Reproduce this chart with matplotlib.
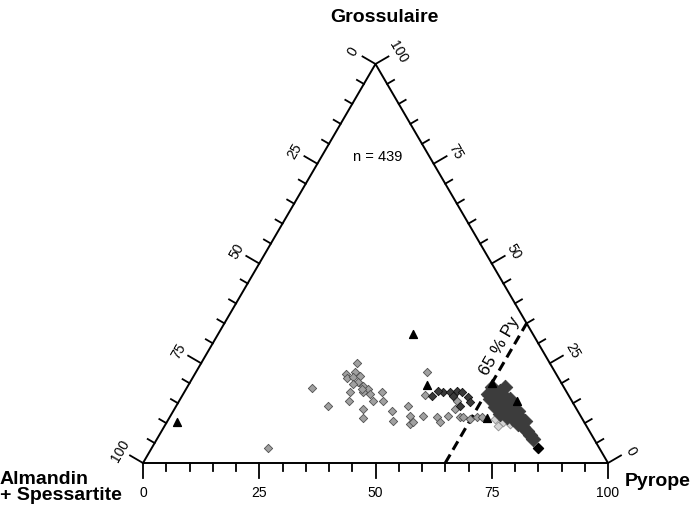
import matplotlib
matplotlib.use('Agg')
import matplotlib.pyplot as plt
import numpy as np

plt.rcParams['font.family'] = ['Liberation Sans', 'DejaVu Sans']

# garnet analyses, mol % pyrope (Py) and grossular (Gro); Alm+Sps is the rest
gray_py = [25.0, 26.9, 32.6, 33.5, 34.2, 32.5, 33.2, 34.4, 35.8, 36.1, 37.7, 39.1,
           38.4, 40.2, 37.8, 35.3, 35.6, 36.5, 40.6, 41.7, 41.7, 42.5, 43.9, 47.0,
           48.5, 49.9, 51.5, 52.5, 49.7, 52.1, 52.9, 54.3, 57.5, 58.7, 59.7, 60.4,
           59.8, 62.4, 64.8, 66.1, 63.1, 67.2]
gray_gro = [3.8, 18.8, 14.3, 25.1, 22.8, 22.3, 21.3, 21.6, 21.8, 20.3, 19.3, 18.5,
            17.8, 17.3, 18.5, 19.8, 17.8, 15.5, 13.5, 11.3, 15.5, 17.8, 15.5, 13.0,
            10.5, 14.3, 11.8, 9.8, 22.8, 17.0, 10.3, 11.8, 11.5, 10.3, 11.8, 13.5,
            15.5, 11.5, 11.0, 11.5, 11.5, 11.5]

light_py = [70.2, 72.3, 74.0, 71.7]
light_gro = [11.0, 10.3, 9.8, 9.3]

band_py = [55.6, 57.1, 58.5, 59.7, 58.3, 61.6, 62.7, 53.8, 61.0, 54.4]
band_gro = [17.8, 17.8, 18.0, 17.8, 16.8, 16.5, 15.3, 16.8, 14.3, 18.0]

blob_py = [67.0, 67.8, 69.6, 68.6, 71.1, 72.6, 70.7, 68.7, 73.9, 75.3, 75.7, 77.2,
           78.6, 79.7, 70.9, 66.6, 70.6, 72.5, 74.1, 76.9, 80.9, 65.6, 65.5, 74.1, 68.3]
blob_gro = [17.3, 18.0, 16.5, 15.5, 14.8, 13.5, 13.5, 14.0, 12.3, 11.5, 9.8, 9.0,
            8.0, 7.0, 16.0, 16.0, 12.3, 11.5, 11.0, 10.5, 6.0, 19.0, 17.3, 13.0, 19.0]

tri_py = [2.2, 41.9, 51.3, 65.0, 68.4, 72.7]
tri_gro = [10.3, 32.3, 19.5, 20.1, 11.3, 15.5]

dia_py = [83.0]
dia_gro = [3.8]

n_total = 439
py_limit = 65
tick_vals = [0, 25, 50, 75, 100]

W, H = 692, 506
X0, X1, YB, YT = 143, 608, 464, 65   # triangle frame in figure pixels
sx, sy = X1 - X0, YB - YT


def tern(py, gro):
    py = np.asarray(py, dtype=float) / 100.0
    gro = np.asarray(gro, dtype=float) / 100.0
    return py + gro / 2, gro


fig = plt.figure(figsize=(W / 100, H / 100), dpi=100)
ax = fig.add_axes([X0 / W, 1 - YB / H, sx / W, sy / H])
ax.set_xlim(0, 1)
ax.set_ylim(0, 1)
ax.axis('off')

# frame
ax.plot([0, 1, 0.5, 0], [0, 0, 1, 0], color='black', lw=1.4, clip_on=False,
        solid_joinstyle='miter')

# outward normals in pixel space (y up)
ang = np.degrees(np.arctan2(sy, sx / 2))
nl = np.array([-sy, sx / 2]) / np.hypot(sy, sx / 2)
nr = np.array([sy, sx / 2]) / np.hypot(sy, sx / 2)
nb = np.array([0.0, -1.0])

for v in range(0, 101, 5):
    L = 15 if v % 25 == 0 else 8
    for (x, y), n in [(tern(0, 100 - v), nl), (tern(100 - v, v), nr), (tern(v, 0), nb)]:
        ax.plot([x, x + L * n[0] / sx], [y, y + L * n[1] / sy], color='black',
                lw=1.3, clip_on=False)

for v in tick_vals:
    x, y = tern(0, 100 - v)
    ax.annotate(str(v), (x, y), xytext=(26 * nl[0], 26 * nl[1]), textcoords='offset pixels',
                ha='center', va='center', rotation=ang, fontsize=10)
    x, y = tern(100 - v, v)
    ax.annotate(str(v), (x, y), xytext=(26 * nr[0], 26 * nr[1]), textcoords='offset pixels',
                ha='center', va='center', rotation=-ang, fontsize=10)
    x, y = tern(v, 0)
    ax.annotate(str(v), (x, y), xytext=(0, -29), textcoords='offset pixels',
                ha='center', va='center', fontsize=10)

# 65 % Py line
lx, ly = tern([py_limit, py_limit], [0, 100 - py_limit])
ax.plot(lx, ly, color='black', lw=2.2, dashes=[3.2, 1.8], clip_on=False)
x, y = tern(py_limit, 28)
ax.annotate('65 % Py', (x, y), xytext=(-10, 6), textcoords='offset pixels',
            ha='center', va='center', rotation=ang, fontsize=12.5)

# data
x, y = tern(gray_py, gray_gro)
ax.scatter(x, y, marker='D', s=18, facecolor='#a0a0a0', edgecolor='#505050', lw=0.6, zorder=3)
x, y = tern(light_py, light_gro)
ax.scatter(x, y, marker='D', s=20, facecolor='#d4d4d4', edgecolor='#909090', lw=0.6, zorder=3)
x, y = tern(band_py, band_gro)
ax.scatter(x, y, marker='D', s=18, facecolor='#3a3a3a', edgecolor='#111111', lw=0.6, zorder=3)
x, y = tern(blob_py, blob_gro)
ax.scatter(x, y, marker='D', s=55, facecolor='#3c3c3c', edgecolor='#3c3c3c', lw=0.6, zorder=3)
x, y = tern(tri_py, tri_gro)
ax.scatter(x, y, marker='^', s=32, color='black', zorder=4)
x, y = tern(dia_py, dia_gro)
ax.scatter(x, y, marker='D', s=26, color='black', zorder=4)

ax.text(0.505, 0.77, 'n = %d' % n_total, ha='center', va='center', fontsize=10.5)

# corner labels
fig.text(384 / W, 1 - 18 / H, 'Grossulaire', ha='center', va='center',
         fontsize=14, fontweight='bold')
fig.text(0, 1 - 480 / H, 'Almandin', ha='left', va='center', fontsize=14, fontweight='bold')
fig.text(0, 1 - 496 / H, '+ Spessartite', ha='left', va='center', fontsize=14, fontweight='bold')
fig.text(625 / W, 1 - 482 / H, 'Pyrope', ha='left', va='center', fontsize=14, fontweight='bold')

fig.savefig('out.png', dpi=100, facecolor='white')
